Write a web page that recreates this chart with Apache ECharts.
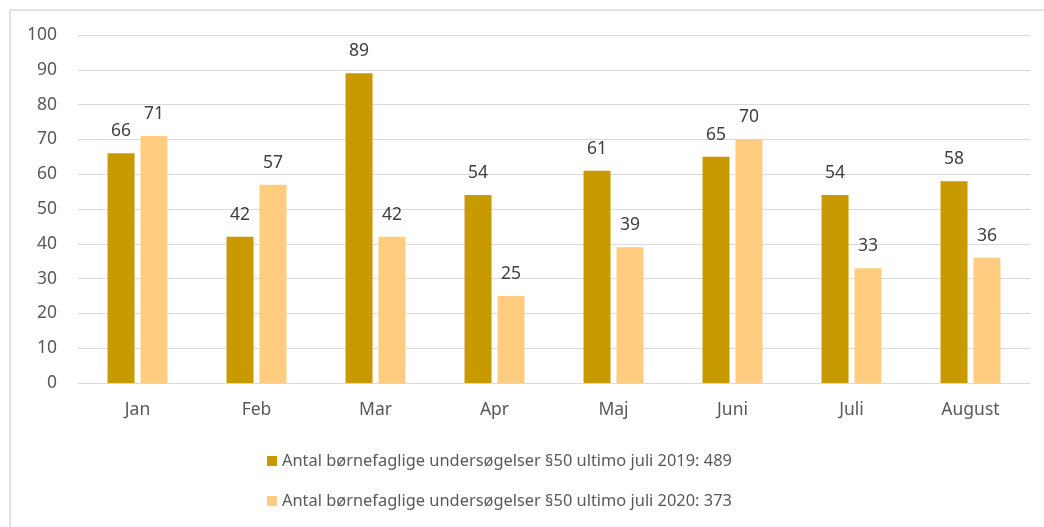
<!DOCTYPE html>
<html>
<head>
<meta charset="utf-8">
<script src="https://cdn.jsdelivr.net/npm/echarts@6/dist/echarts.min.js"></script>
<style>html,body{margin:0;padding:0;background:#fff;}#c{width:1044px;height:527px;}</style>
</head>
<body>
<div id="c"></div>
<script>
const categories = ['Jan', 'Feb', 'Mar', 'Apr', 'Maj', 'Juni', 'Juli', 'August'];
const series2019 = [66, 42, 89, 54, 61, 65, 54, 58];
const series2020 = [71, 57, 42, 25, 39, 70, 33, 36];
const name2019 = 'Antal børnefaglige undersøgelser §50 ultimo juli 2019: 489';
const name2020 = 'Antal børnefaglige undersøgelser §50 ultimo juli 2020: 373';
const yTicks = [0, 10, 20, 30, 40, 50, 60, 70, 80, 90, 100];

const FONT = 'Noto Sans';
const TXT = '#595959';
const chart = echarts.init(document.getElementById('c'), null, {renderer: 'canvas'});
const labelStyle = {show: true, position: 'top', distance: 13, color: '#404040', fontFamily: FONT, fontSize: 17.5};
chart.setOption({
  animation: false,
  backgroundColor: '#fff',
  graphic: [{
    type: 'rect', shape: {x: 10, y: 10, width: 1200, height: 700},
    style: {fill: 'none', stroke: '#d9d9d9', lineWidth: 1.5}, silent: true
  }],
  grid: {left: 78, right: 14, top: 35, bottom: 144, containLabel: false},
  legend: {
    orient: 'vertical', left: 262, top: 448, itemGap: 24,
    itemWidth: 10, itemHeight: 10, icon: 'rect',
    textStyle: {color: TXT, fontFamily: FONT, fontSize: 16.4},
    data: [name2019, name2020]
  },
  xAxis: {
    type: 'category', data: categories,
    axisLine: {lineStyle: {color: '#d9d9d9', width: 1}},
    axisTick: {show: false},
    axisLabel: {color: TXT, fontFamily: FONT, fontSize: 17.5, margin: 18}
  },
  yAxis: {
    type: 'value', min: yTicks[0], max: yTicks[yTicks.length - 1], interval: 10,
    axisLine: {show: false}, axisTick: {show: false},
    axisLabel: {color: TXT, fontFamily: FONT, fontSize: 17.5, margin: 21},
    splitLine: {lineStyle: {color: '#d9d9d9', width: 1}}
  },
  series: [
    {name: name2019, type: 'bar', data: series2019, barWidth: 27, barGap: '22%',
     itemStyle: {color: '#C99A00'}, label: labelStyle},
    {name: name2020, type: 'bar', data: series2020, barWidth: 27,
     itemStyle: {color: '#FFCC80'}, label: labelStyle}
  ]
});
</script>
</body>
</html>
